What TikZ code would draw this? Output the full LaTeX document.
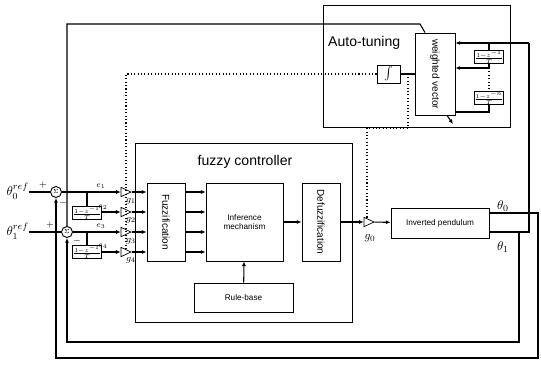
\documentclass[tikz,border=0pt]{standalone}
\usepackage{amsmath, amssymb}
\usepackage{graphicx}
\usepackage{fontspec}
\setmainfont{Liberation Sans}
\usepackage{tikz}
\usetikzlibrary{shapes.geometric, positioning, arrows.meta, calc}

\tikzset{
  blk/.style={draw, rectangle, line width=0.8pt, fill=white, inner sep=1pt, align=center, font=\fontsize{7}{8}\selectfont},
  vblk/.style={blk, minimum width=1.14cm, minimum height=2.34cm, font=\fontsize{8.5}{9}\selectfont},
  frame/.style={draw, rectangle, line width=0.5pt},
  sumnode/.style={draw, circle, line width=0.8pt, fill=white, minimum size=0.33cm, inner sep=0pt, font=\fontsize{5}{5}\selectfont},
  gain/.style={draw, isosceles triangle, isosceles triangle stretches, line width=0.6pt, fill=white, minimum height=0.3cm, minimum width=0.28cm, inner sep=0pt},
  dly/.style={blk, minimum width=0.63cm, minimum height=0.4cm, inner sep=0pt, font=\fontsize{5.5}{5.5}\selectfont},
  wire/.style={line width=0.9pt},
  sig/.style={wire, -{Latex[length=4pt,width=3.5pt]}},
  tune/.style={line width=0.9pt, dotted},
  lbl/.style={inner sep=0pt, font=\fontsize{8}{8}\selectfont}
}

\begin{document}
\begin{tikzpicture}[x=0.03cm, y=-0.03cm]
        \useasboundingbox (0,0) rectangle (541,365);

        % Frames
        \node[frame, minimum width=5.61cm, minimum height=3.66cm] (atbox) at (416.5,66) {};
        \node[anchor=west, inner sep=0pt, font=\fontsize{12}{14}\selectfont] (atlbl) at (328,43) {Auto-tuning};
        \node[frame, minimum width=6.51cm, minimum height=5.37cm] (fcbox) at (243.5,232.5) {};
        \node[inner sep=0pt, font=\fontsize{12}{14}\selectfont] (fclbl) at (245,162) {fuzzy controller};

        % Blocks
        \node[vblk] (fz) at (166,222) {\rotatebox{-90}{Fuzzification}};
        \node[vblk, minimum width=2.31cm, font=\fontsize{7}{8}\selectfont] (inf) at (244.5,222) {Inference\\mechanism};
        \node[vblk] (dfz) at (321,222) {\rotatebox{-90}{Defuzzification}};
        \node[blk, minimum width=2.97cm, minimum height=0.87cm] (rb) at (243.5,297.5) {Rule-base};
        \node[blk, minimum width=2.94cm, minimum height=0.9cm] (pend) at (440,223) {Inverted pendulum};
        \node[blk, minimum width=1.2cm, minimum height=2.46cm, font=\fontsize{8.5}{9}\selectfont] (wv) at (435,74) {\rotatebox{-90}{weighted vector}};
        \node[blk, minimum width=0.69cm, minimum height=0.54cm, font=\fontsize{11}{11}\selectfont] (integ) at (388.5,74) {$\int$};
        \node[dly] (dz1) at (489,57) {$\frac{1-z^{-1}}{T}$};
        \node[dly] (dz2) at (489,98) {$\frac{1-z^{-n}}{T}$};

        % Summing junctions and inputs
        \node[anchor=east, inner sep=0pt, font=\fontsize{11}{11}\selectfont] (r0) at (29,191) {$\theta_0^{ref}$};
        \node[anchor=east, inner sep=0pt, font=\fontsize{11}{11}\selectfont] (r1) at (29,231) {$\theta_1^{ref}$};
        \node[sumnode] (s0) at (56,192) {$\Sigma$};
        \node[sumnode] (s1) at (67,232) {$\Sigma$};
        \node[lbl] (p0) at (43,185) {$+$};
        \node[lbl] (m0) at (63,203) {$-$};
        \node[lbl] (p1) at (50,225) {$+$};
        \node[lbl] (m1) at (77,241) {$-$};

        % Error derivatives
        \node[dly] (dl1) at (87,213) {$\frac{1-z^{-1}}{T}$};
        \node[dly] (dl2) at (87,252) {$\frac{1-z^{-1}}{T}$};

        % Gains
        \node[gain] (g1) at (124,192) {};
        \node[gain] (g2) at (124,212) {};
        \node[gain] (g3) at (124,232) {};
        \node[gain] (g4) at (124,252) {};
        \node[gain] (g0) at (367,222) {};
        \node[lbl] (g1l) at (131,201) {$g_1$};
        \node[lbl] (g2l) at (131,220) {$g_2$};
        \node[lbl] (g3l) at (131,241) {$g_3$};
        \node[lbl] (g4l) at (131,260) {$g_4$};
        \node[lbl, font=\fontsize{10}{10}\selectfont] (g0l) at (370,238) {$g_0$};

        % Signal labels
        \node[lbl, font=\fontsize{7}{7}\selectfont] (e1) at (101,186) {$e_1$};
        \node[lbl, font=\fontsize{7}{7}\selectfont] (e2) at (103,207) {$e_2$};
        \node[lbl, font=\fontsize{7}{7}\selectfont] (e3) at (101,226) {$e_3$};
        \node[lbl, font=\fontsize{7}{7}\selectfont] (e4) at (103,246) {$e_4$};
        \node[lbl, font=\fontsize{11}{11}\selectfont] (th0) at (503,206) {$\theta_0$};
        \node[lbl, font=\fontsize{11}{11}\selectfont] (th1) at (503,247) {$\theta_1$};

        % Helper points
        \coordinate (t1) at (87,192);
        \coordinate (t2) at (87,232);
        \coordinate (o0) at ($(pend.east)+(0,-10)$);
        \coordinate (o1) at ($(pend.east)+(0,9)$);
        \coordinate (k1) at (529,232);
        \coordinate (tn) at (529,43);
        \coordinate (fb0) at (538,358);
        \coordinate (fb1) at (519,342);
        \coordinate (tz) at (489,43);
        \coordinate (tz1) at (489,68);
        \coordinate (tz2) at (489,112);
        \coordinate (tb) at (420,24);
        \coordinate (wvout) at (453,124);
        \coordinate (dk) at (408,74);
        \coordinate (dk2) at (408,128);
        \coordinate (gk) at (126,74);

        % Input side
        \draw[wire] (r0.east |- s0) -- (s0);
        \draw[wire] (r1.east |- s1) -- (s1);
        \draw[sig] (s0) -- (g1);
        \draw[sig] (s1) -- (g3);
        \draw[wire] (t1) -- (dl1);
        \draw[wire] (t2) -- (dl2);
        \draw[sig] (dl1.east |- g2) -- (g2);
        \draw[sig] (dl2.east |- g4) -- (g4);

        % Fuzzy controller
        \foreach \i in {1,...,4} {
          \draw[sig] (g\i.east) -- (g\i -| fz.west);
          \draw[sig] (fz.east |- g\i) -- (inf.west |- g\i);
        }
        \draw[sig] (inf) -- (dfz);
        \draw[sig] (rb) -- (inf);
        \draw[sig] (dfz) -- (g0);
        \draw[sig] (g0) -- (pend);

        % Feedback
        \draw[sig] (o0) -| (fb0) -| (s0.south);
        \draw[wire] (o1) -- (k1) -- (tn);
        \draw[sig] (o1 -| fb1) -- (fb1) -| (s1.south);
        \draw[sig] (tn) -- (tn -| wv.east);
        \draw[wire] (tz) -- (dz1);
        \draw[wire] (dz1) -- (tz1);
        \draw[sig] (tz1) -- (tz1 -| wv.east);
        \draw[tune] (tz1) -- (dz2);
        \draw[wire] (dz2) -- (tz2) -- (tz2 -| wv.east);
        \draw[wire] ($(wv.north)+(-10,0)$) -- (tb) -| (s1.north);
        \draw[sig] ($(wv.south)+(12,0)$) -- (wvout);

        % Tuning paths
        \draw[wire] (integ) -- (wv);
        \draw[tune] (integ) -- (gk) -- (gk |- g4.north);
        \draw[tune] (dk) -- (dk2) -| (g0.north);
    \end{tikzpicture}
\end{document}
